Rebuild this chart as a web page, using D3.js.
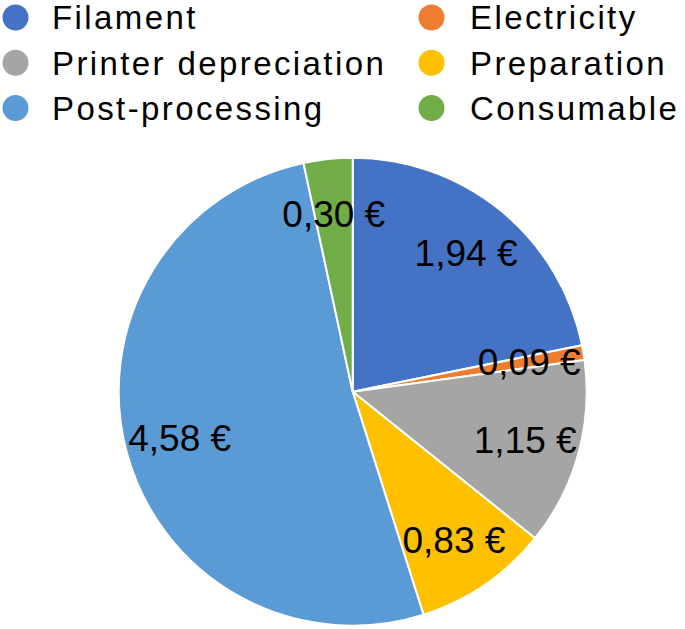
<!DOCTYPE html>
<html>
<head>
<meta charset="utf-8">
<script src="https://cdn.jsdelivr.net/npm/d3@7"></script>
<style>
  html, body { margin: 0; padding: 0; background: #fff; }
  svg { display: block; }
  text { font-family: "Helvetica Neue", Helvetica, "Liberation Sans", Arial, sans-serif; fill: #000; }
</style>
</head>
<body>
<svg id="chart" width="685" height="629"></svg>
<script>
const categories = ["Filament", "Electricity", "Printer depreciation", "Preparation", "Post-processing", "Consumable"];
const values = [1.94, 0.09, 1.15, 0.83, 4.58, 0.30];
const colors = ["#4472C4", "#ED7D31", "#A5A5A5", "#FFC000", "#5B9BD5", "#70AD47"];
// legend order as in picture: rows left column then right column
const legendLeft = ["Filament", "Printer depreciation", "Post-processing"];
const legendRight = ["Electricity", "Preparation", "Consumable"];

const width = 685, height = 629;
const cx = 352.7, cy = 391.7, R = 234;
const svg = d3.select("#chart");

const color = d3.scaleOrdinal().domain(categories).range(colors);
const data = categories.map((c, i) => ({ name: c, value: values[i] }));

const pie = d3.pie().sort(null).value(d => d.value);
const arcs = pie(data);
const arc = d3.arc().innerRadius(0).outerRadius(R);
const labelArc = d3.arc().innerRadius(179).outerRadius(179);

const g = svg.append("g").attr("transform", `translate(${cx},${cy})`);
g.selectAll("path").data(arcs).join("path")
  .attr("d", arc)
  .attr("fill", d => color(d.data.name))
  .attr("stroke", "#fff")
  .attr("stroke-width", 2)
  .attr("stroke-linejoin", "round");

const fmt = v => v.toFixed(2).replace(".", ",") + " €";
g.selectAll("text.lbl").data(arcs).join("text")
  .attr("class", "lbl")
  .attr("transform", d => `translate(${labelArc.centroid(d)})`)
  .attr("text-anchor", "middle")
  .attr("dy", 13.3)
  .style("font-size", "37px")
  .text(d => fmt(d.data.value));

// legend
const rowY = d3.scalePoint().domain([0, 1, 2]).range([17.5, 108]);
const cols = [
  { items: legendLeft, cxDot: 15.5, tx: 52 },
  { items: legendRight, cxDot: 431.5, tx: 470 }
];
cols.forEach(col => {
  const lg = svg.append("g");
  col.items.forEach((name, i) => {
    lg.append("circle")
      .attr("cx", col.cxDot).attr("cy", rowY(i)).attr("r", 13)
      .attr("fill", color(name));
    lg.append("text")
      .attr("x", col.tx).attr("y", rowY(i) + 11.8)
      .style("font-size", "33px")
      .style("letter-spacing", "2.4px")
      .text(name);
  });
});
</script>
</body>
</html>
